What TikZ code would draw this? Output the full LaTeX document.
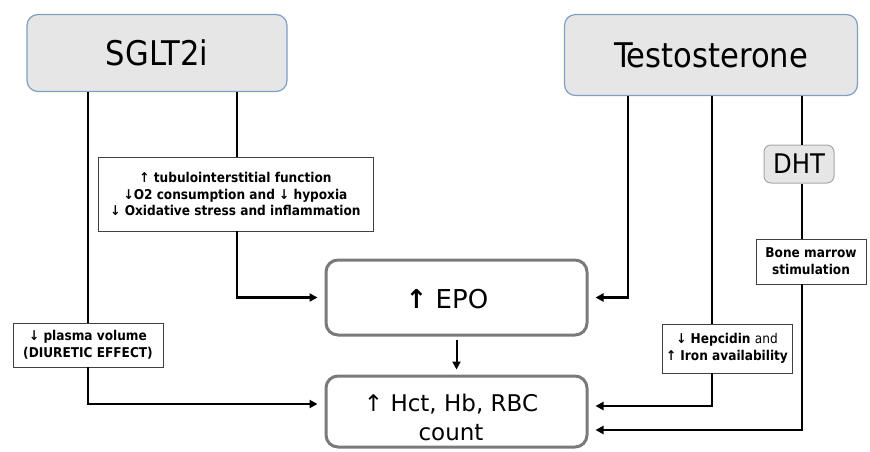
\documentclass[tikz,border=0pt]{standalone}
\usepackage{fontspec}
\setmainfont{DejaVu Sans}
\newfontfamily\condfont{DejaVu Sans Condensed}
\usetikzlibrary{arrows.meta}
\definecolor{headfill}{HTML}{E6E6E6}
\definecolor{headdraw}{HTML}{7F9FC4}
\definecolor{outgray}{HTML}{7A7A7A}
\definecolor{dhtdraw}{HTML}{A8A8A8}
\begin{document}
\begin{tikzpicture}[x=1pt,y=-1pt,
  headbox/.style={draw=headdraw,fill=headfill,line width=1.2pt,rounded corners=11pt,inner sep=0pt,font=\condfont\fontsize{34}{40}\selectfont},
  outbox/.style={draw=outgray,fill=white,line width=3pt,rounded corners=12pt,inner sep=0pt,align=center},
  outtext/.style={align=center,inner sep=0pt},
  notebox/.style={draw=black!75,fill=white,line width=0.9pt,inner sep=0pt,align=center,font=\condfont\bfseries\fontsize{13.5}{16.8}\selectfont},
  conn/.style={line width=2.4pt,black},
  arr/.style={conn,-{Triangle[length=8pt,width=8pt]},shorten >=7pt}
]
\useasboundingbox (0,0) rectangle (870,451);

% head boxes
\node[headbox,minimum width=260pt,minimum height=77pt] (sglt) at (157,53) {SGLT2i};
\node[headbox,minimum width=293pt,minimum height=81pt] (testo) at (711,55) {Testosterone};

% outcome boxes
\node[outbox,minimum width=261pt,minimum height=75pt] (epo) at (456.5,297.5) {};
\node[outtext,font=\fontsize{26}{30}\selectfont] (epotxt) at (447,299) {{\bfseries ↑} EPO};
\node[outbox,minimum width=261pt,minimum height=71pt] (hct) at (456.5,411.5) {};
\node[outtext,font=\fontsize{23}{29}\selectfont] (hcttxt) at (451,417) {↑ Hct, Hb, RBC\\count};

% note boxes
\node[notebox,minimum width=275pt,minimum height=74pt] (tub) at (235.5,194)
  {↑ tubulointerstitial function\\↓O2 consumption and ↓ hypoxia\\↓ Oxidative stress and inflammation};
\node[notebox,minimum width=150pt,minimum height=44pt] (plas) at (88,345)
  {↓ plasma volume\\(DIURETIC EFFECT)};
\node[draw=dhtdraw,fill=headfill,line width=1pt,rounded corners=7pt,inner sep=0pt,minimum width=70pt,minimum height=38pt,font=\condfont\fontsize{27}{32}\selectfont] (dht) at (799,164) {DHT};
\node[notebox,minimum width=110pt,minimum height=45pt] (bone) at (811,261.5)
  {Bone marrow\\stimulation};
\node[notebox,minimum width=130pt,minimum height=49pt] (hep) at (727,348.5)
  {↓ Hepcidin \textmd{and}\\↑ Iron availability};

% line x positions
\coordinate (xa) at (88,0);
\coordinate (xb) at (237,0);
\coordinate (xc) at (628,0);
\coordinate (xd) at (712,0);
\coordinate (xe) at (802,0);
\coordinate (ylo) at (0,404);
\coordinate (yhep) at (0,406);
\coordinate (ybone) at (0,430);

% SGLT2i left branch
\draw[conn] (sglt.south -| xa) -- (plas.north -| xa);
\draw[arr] (plas.south -| xa) |- (hct.west |- ylo);
% SGLT2i right branch
\draw[conn] (sglt.south -| xb) -- (tub.north -| xb);
\draw[arr] (tub.south -| xb) |- (epo.west);
% Testosterone to EPO
\draw[arr] (testo.south -| xc) |- (epo.east);
% Testosterone hepcidin branch
\draw[conn] (testo.south -| xd) -- (hep.north -| xd);
\draw[arr] (hep.south -| xd) |- (hct.east |- yhep);
% Testosterone DHT branch
\draw[conn] (testo.south -| xe) -- (dht.north -| xe);
\draw[conn] (dht.south -| xe) -- (bone.north -| xe);
\draw[arr] (bone.south -| xe) |- (hct.east |- ybone);
% EPO to Hct
\draw[line width=2pt,-{Triangle[length=8pt,width=8pt]},shorten >=5pt,shorten <=3pt] (epo.south) -- (hct.north);
\end{tikzpicture}
\end{document}
